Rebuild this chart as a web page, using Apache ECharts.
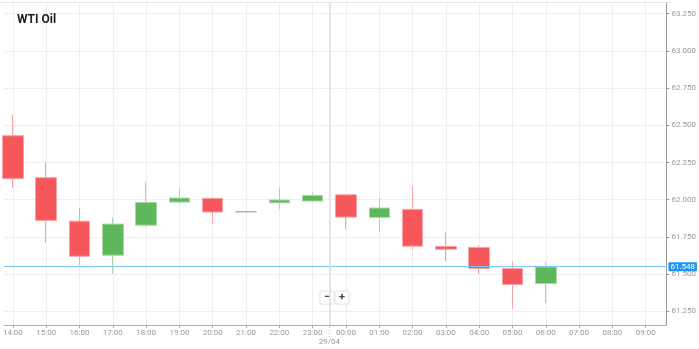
<!DOCTYPE html>
<html><head><meta charset="utf-8">
<script src="https://cdn.jsdelivr.net/npm/echarts@6/dist/echarts.min.js"></script>
<style>html,body{margin:0;padding:0;background:#fff}#c{width:699px;height:349px}</style>
</head><body><div id="c"></div>
<script>
const chartTitle = 'WTI Oil';
const candleTimes = ['14:00','15:00','16:00','17:00','18:00','19:00','20:00','21:00','22:00','23:00','00:00','01:00','02:00','03:00','04:00','05:00','06:00'];
const opens  = [62.430, 62.148, 61.856, 61.627, 61.829, 61.984, 62.009, 61.919, 61.979, 61.991, 62.033, 61.881, 61.935, 61.686, 61.679, 61.537, 61.437];
const closes = [62.141, 61.861, 61.620, 61.836, 61.982, 62.011, 61.917, 61.919, 61.998, 62.029, 61.883, 61.944, 61.688, 61.667, 61.537, 61.430, 61.548];
const lows   = [62.080, 61.713, 61.562, 61.504, 61.814, 61.975, 61.841, 61.919, 61.937, 61.991, 61.802, 61.784, 61.665, 61.587, 61.499, 61.268, 61.306];
const highs  = [62.570, 62.251, 61.946, 61.881, 62.117, 62.076, 62.012, 61.919, 62.083, 62.049, 62.035, 62.011, 62.094, 61.782, 61.694, 61.587, 61.580];
const xTickLabels = ['14:00','15:00','16:00','17:00','18:00','19:00','20:00','21:00','22:00','23:00','00:00','01:00','02:00','03:00','04:00','05:00','06:00','07:00','08:00','09:00'];
const yTickValues = [61.25, 61.5, 61.75, 62.0, 62.25, 62.5, 62.75, 63.0, 63.25];
const currentPrice = 61.548;
const dateLabel = '29/04';
const dateBoundary = 9.5;

const candleData = candleTimes.map((t, i) => [i, opens[i], closes[i], lows[i], highs[i]]);
const xTickIdx = xTickLabels.map((_, i) => i);

const chart = echarts.init(document.getElementById('c'), null, {renderer: 'canvas'});
const FONT = 'Roboto';
chart.setOption({
  animation: false,
  title: {text: chartTitle, left: 12, top: 9, textStyle: {fontFamily: FONT, fontSize: 12, fontWeight: 'bold', color: '#222'}},
  grid: {left: 0, right: 28, top: 3, bottom: 24},
  xAxis: {
    type: 'value', min: -0.267, max: 19.622,
    axisLine: {onZero: false, lineStyle: {color: '#aaa'}},
    axisTick: {show: true, customValues: xTickIdx, length: 3, lineStyle: {color: '#aaa'}},
    axisLabel: {customValues: xTickIdx, formatter: v => xTickLabels[Math.round(v)], color: '#999', fontSize: 8, fontFamily: FONT, margin: 4},
    splitLine: {show: true, lineStyle: {color: '#eeeeee'}}
  },
  yAxis: {
    type: 'value', position: 'right', min: 61.158, max: 63.322,
    axisLine: {show: true, onZero: false, lineStyle: {color: '#999'}},
    axisTick: {show: true, customValues: yTickValues, length: 3, lineStyle: {color: '#999'}},
    axisLabel: {customValues: yTickValues, formatter: v => v.toFixed(3), color: '#999', fontSize: 8, fontFamily: FONT, margin: 5},
    splitLine: {show: true, lineStyle: {color: '#eeeeee'}}
  },
  series: [{
    type: 'candlestick',
    data: candleData,
    encode: {x: 0, y: [1, 2, 3, 4]},
    barWidth: 21,
    itemStyle: {
      color: '#5cb85a', color0: '#f6575a',
      borderColor: '#a6d9a4', borderColor0: '#f8a3a5',
      borderColorDoji: '#aaaaaa', borderWidth: 1
    },
    markLine: {
      silent: true, symbol: 'none', animation: false,
      data: [
        {yAxis: currentPrice, lineStyle: {color: '#7cc6f4', type: 'solid', width: 1},
         label: {show: true, position: 'end', formatter: currentPrice.toFixed(3), backgroundColor: '#2196f3', color: '#fff', fontSize: 8, fontFamily: FONT, padding: [1, 2, 0, 2], distance: 2, borderRadius: 1}},
        {xAxis: dateBoundary, lineStyle: {color: '#dddddd', type: 'solid', width: 1.5}, label: {show: false}}
      ]
    }
  }]
});

const p = chart.convertToPixel({gridIndex: 0}, [dateBoundary, 61.158]);
chart.setOption({
  graphic: [
    {type: 'line', shape: {x1: 0, y1: 2.5, x2: 671, y2: 2.5}, style: {stroke: '#e6e6e6', lineWidth: 1}, silent: true},
    {type: 'line', shape: {x1: p[0], y1: p[1] + 2, x2: p[0], y2: p[1] + 12}, style: {stroke: '#bbb', lineWidth: 1, lineDash: [1, 2]}, silent: true},
    {type: 'text', x: p[0], y: p[1] + 13, style: {text: dateLabel, fill: '#999', font: '8px Roboto', align: 'center', verticalAlign: 'top'}, silent: true},
    {type: 'group', x: 320, y: 291, children: [
      {type: 'rect', shape: {x: 0, y: 0, width: 14, height: 13, r: 1}, style: {fill: '#fff', stroke: '#e2e2e2', lineWidth: 1}},
      {type: 'rect', shape: {x: 15, y: 0, width: 14, height: 13, r: 1}, style: {fill: '#fff', stroke: '#e2e2e2', lineWidth: 1}},
      {type: 'text', x: 7, y: 6.5, style: {text: '−', fill: '#444', font: 'bold 11px Roboto', align: 'center', verticalAlign: 'middle'}},
      {type: 'text', x: 22, y: 6.5, style: {text: '+', fill: '#444', font: 'bold 11px Roboto', align: 'center', verticalAlign: 'middle'}}
    ]}
  ]
});
</script>
</body></html>
